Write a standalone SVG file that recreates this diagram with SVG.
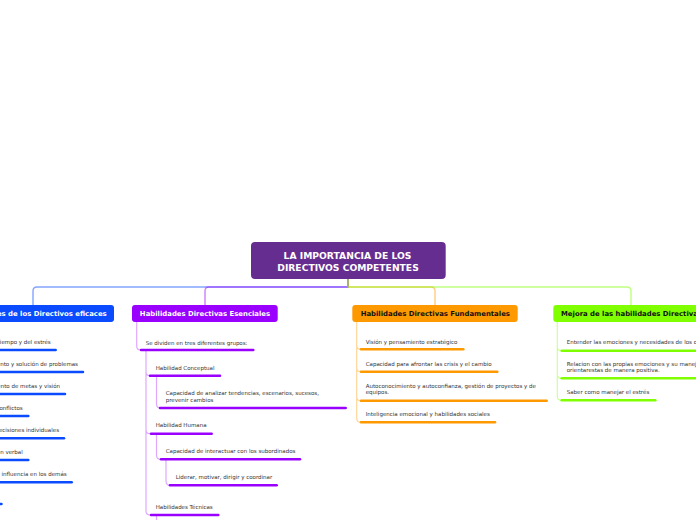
<svg xmlns="http://www.w3.org/2000/svg" width="696" height="520" viewBox="0 0 696 520">
<style>
.t{font-family:"DejaVu Sans",Verdana,sans-serif;font-size:5.5px;fill:#333}
.h{font-family:"DejaVu Sans",Verdana,sans-serif;font-size:6.9px;font-weight:bold}
.r{font-family:"DejaVu Sans",Verdana,sans-serif;font-size:9.2px;font-weight:bold;fill:#fff}
.u{fill:none;stroke-width:2.5;stroke-linecap:round}
.ub{stroke:#0a4bff}.up{stroke:#9900ff}.uo{stroke:#ff9900}.ug{stroke:#80ff00}
.c{fill:none;stroke-width:1.4;stroke-opacity:.5}
.s{fill:none;stroke-width:1.2}
</style>
<rect width="696" height="520" fill="#fff"/>
<g id="connectors">
<path class="c" stroke="#0a4bff" d="M348,279 V287 H37 Q33,287 33,291 V305"/>
<path class="c" stroke="#9900ff" d="M348,279 V287 H209 Q205,287 205,291 V305"/>
<path class="c" stroke="#ff9900" d="M348,279 V287 H431 Q435,287 435,291 V305"/>
<path class="c" stroke="#80ff00" d="M348,279 V287 H627 Q631,287 631,291 V305"/>
<path class="s" stroke="#dfa8ff" d="M136.7,322 V346 Q136.7,350 140.7,350 M146,351 V371.7 Q146,375.7 150,375.7 M146,371 V429.7 Q146,433.7 150,433.7 M146,429 V511 Q146,515 150,515 M156.5,376 V404 Q156.5,408 160.5,408 M156.5,434 V455.3 Q156.5,459.3 160.5,459.3 M166,459.5 V481.3 Q166,485.3 170,485.3 M156.5,515 V521"/>
<path class="s" stroke="#ffd699" d="M356.7,322 V345.3 Q356.7,349.3 360.7,349.3 M356.7,345 V367.7 Q356.7,371.7 360.7,371.7 M356.7,367 V396.7 Q356.7,400.7 360.7,400.7 M356.7,396 V418.3 Q356.7,422.3 360.7,422.3"/>
<path class="s" stroke="#ccff99" d="M557.3,322 V346.7 Q557.3,350.7 561.3,350.7 M557.3,346 V374.3 Q557.3,378.3 561.3,378.3 M557.3,374 V396.3 Q557.3,400.3 561.3,400.3"/>
</g>
<g id="root">
<rect x="251" y="242" width="194.7" height="37" rx="4" fill="#662d91"/>
<text class="r" x="347.5" y="259" text-anchor="middle">LA IMPORTANCIA DE LOS</text>
<text class="r" x="348" y="270.7" text-anchor="middle">DIRECTIVOS COMPETENTES</text>
</g>
<g id="n-blue">
<rect x="-48" y="305" width="162" height="17" rx="3" fill="#0a4bff"/>
<text class="h" x="106.7" y="315.7" text-anchor="end" fill="#fff">Habilidades de los Directivos eficaces</text>
</g>
<g id="b1"><text class="t" x="50.7" y="344.3" text-anchor="end">Manejo del tiempo y del estrés</text><path class="u ub" d="M-60,350 H55.7"/></g>
<g id="b2"><text class="t" x="78" y="366" text-anchor="end">Razonamiento y solución de problemas</text><path class="u ub" d="M-60,372 H83"/></g>
<g id="b3"><text class="t" x="60" y="388" text-anchor="end">Establecimiento de metas y visión</text><path class="u ub" d="M-60,394 H65"/></g>
<g id="b4"><text class="t" x="22.7" y="410" text-anchor="end">Manejo de conflictos</text><path class="u ub" d="M-60,416 H28.3"/></g>
<g id="b5"><text class="t" x="59" y="432" text-anchor="end">Toma de decisiones individuales</text><path class="u ub" d="M-60,438.3 H64"/></g>
<g id="b6"><text class="t" x="22.7" y="454" text-anchor="end">Comunicación verbal</text><path class="u ub" d="M-60,460 H28.3"/></g>
<g id="b7"><text class="t" x="66.7" y="476" text-anchor="end">Poder e influencia en los demás</text><path class="u ub" d="M-60,482.3 H71.7"/></g>
<g id="b8"><path class="u ub" d="M-60,504 H1.5"/></g>
<g id="n-purple">
<rect x="132" y="305" width="145.7" height="17" rx="3" fill="#9900ff"/>
<text class="h" x="205" y="315.7" text-anchor="middle" fill="#fff">Habilidades Directivas Esenciales</text>
</g>
<g id="p1"><text class="t" x="145.7" y="345">Se dividen en tres diferentes grupos:</text><path class="u up" d="M141,350 H253.3"/></g>
<g id="p2"><text class="t" x="155.7" y="370">Habilidad Conceptual</text><path class="u up" d="M150,375.7 H220"/></g>
<g id="p3"><text class="t" x="165.7" y="395">Capacidad de analizar tendencias, escenarios, sucesos,</text><text class="t" x="165.7" y="402.3">prevenir cambios</text><path class="u up" d="M160,408 H345.7"/></g>
<g id="p4"><text class="t" x="155.7" y="427.3">Habilidad Humana</text><path class="u up" d="M151,433.7 H211.7"/></g>
<g id="p5"><text class="t" x="165.7" y="452.7">Capacidad de interactuar con los subordinados</text><path class="u up" d="M161,459.3 H300"/></g>
<g id="p6"><text class="t" x="175.7" y="478.7">Liderar, motivar, dirigir y coordinar</text><path class="u up" d="M170,485.3 H276.7"/></g>
<g id="p7"><text class="t" x="155.7" y="508.7">Habilidades Técnicas</text><path class="u up" d="M151,515 H218.3"/></g>
<g id="n-orange">
<rect x="352.3" y="305" width="165.4" height="17" rx="3" fill="#ff9900"/>
<text class="h" x="435.3" y="315.7" text-anchor="middle" fill="#111">Habilidades Directivas Fundamentales</text>
</g>
<g id="o1"><text class="t" x="365.7" y="344.3">Visión y pensamiento estratégico</text><path class="u uo" d="M361,349.3 H463.3"/></g>
<g id="o2"><text class="t" x="365.7" y="366.3">Capacidad para afrontar las crisis y el cambio</text><path class="u uo" d="M361,371.7 H497.3"/></g>
<g id="o3"><text class="t" x="365.7" y="387.7">Autoconocimiento y autoconfianza, gestión de proyectos y de</text><text class="t" x="365.7" y="394.2">equipos.</text><path class="u uo" d="M361,400.7 H546.7"/></g>
<g id="o4"><text class="t" x="365.7" y="415.9">Inteligencia emocional y habilidades sociales</text><path class="u uo" d="M361,422.3 H495"/></g>
<g id="n-green">
<rect x="553.3" y="305" width="160" height="17" rx="3" fill="#80ff00"/>
<text class="h" x="561" y="315.7" fill="#111">Mejora de las habilidades Directivas</text>
</g>
<g id="g1"><text class="t" x="566.7" y="344">Entender las emociones y necesidades de los demás</text><path class="u ug" d="M561.7,350.7 H720"/></g>
<g id="g2"><text class="t" x="566.7" y="365.8">Relacion con las propias emociones y su manejo,</text><text class="t" x="566.7" y="372.2">orientarestas de manera positiva.</text><path class="u ug" d="M561.7,378.3 H720"/></g>
<g id="g3"><text class="t" x="566.7" y="394">Saber como manejar el estrés</text><path class="u ug" d="M561.7,400.3 H655.3"/></g>
</svg>
